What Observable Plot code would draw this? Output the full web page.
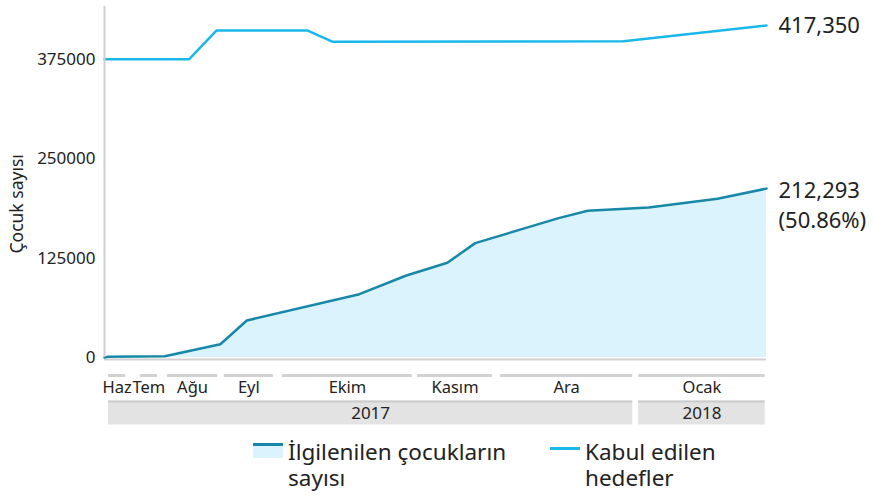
<!DOCTYPE html>
<html>
<head>
<meta charset="utf-8">
<script src="https://cdn.jsdelivr.net/npm/d3@7"></script>
<script src="https://cdn.jsdelivr.net/npm/@observablehq/plot@0.6"></script>
<style>
  body { margin: 0; background: #fff; font-family: "Noto Sans", sans-serif; }
  #chart { position: relative; width: 873px; height: 495px; }
  .legend { position: absolute; top: 439px; left: 0; width: 873px; font-size: 22.5px; line-height: 26px; color: #222; }
  .item { position: absolute; display: flex; align-items: flex-start; }
  .sw { width: 30px; height: 15px; margin-top: 4px; margin-right: 5px; box-sizing: border-box; flex: none; }
</style>
</head>
<body>
<div id="chart"></div>
<script>
// Abstract report-order position (0 = first report, 100 = last report)
const reachT  = [0, 0.5, 9.1, 17.5, 21.5, 38.5, 45.6, 51.8, 56.0, 68.6, 73.0, 82.2, 92.6, 100];
const reachV  = [0, 900, 1600, 16700, 46500, 79600, 103100, 119100, 143800, 175200, 184500, 188700, 199600, 212293];
const targetT = [0, 12.8, 16.9, 30.7, 34.4, 78.4, 100];
const targetV = [375000, 375000, 411000, 411000, 397000, 397500, 417350];
const months     = ["Haz", "Tem", "Ağu", "Eyl", "Ekim", "Kasım", "Ara", "Ocak"];
const monthStart = [0.6, 5.4, 9.5, 18.1, 26.9, 47.3, 59.8, 80.7];
const monthEnd   = [3.2, 8.0, 17.1, 25.5, 46.5, 58.6, 79.8, 99.8];
const monthYear  = [2017, 2017, 2017, 2017, 2017, 2017, 2017, 2018];
const yTicks = [0, 125000, 250000, 375000];
const yLabel = "Çocuk sayısı";
const reachName = "İlgilenilen çocukların sayısı";
const targetName = "Kabul edilen hedefler";

const reach = reachT.map((t, i) => ({t, v: reachV[i]}));
const target = targetT.map((t, i) => ({t, v: targetV[i]}));
const monthData = months.map((m, i) => ({m, s: monthStart[i], e: monthEnd[i], y: monthYear[i]}));
const years = d3.groups(monthData, d => d.y).map(([y, ms]) => ({
  y, s: d3.min(ms, d => d.s), e: d3.max(ms, d => d.e)
}));
const lastR = reach[reach.length - 1];
const lastT = target[target.length - 1];
const pct = Math.floor(lastR.v / lastT.v * 10000) / 100;

const TEAL = "#1888a8", CYAN = "#1ab8ea", FILL = "#daf3fc";

const plot = Plot.plot({
  width: 873,
  height: 430,
  marginLeft: 104,
  marginRight: 107,
  marginTop: 3,
  marginBottom: 73,
  style: {fontFamily: "Noto Sans, sans-serif", color: "#222", background: "transparent"},
  x: {domain: [0, 100], axis: null},
  y: {domain: [0, 445000], axis: null},
  marks: [
    Plot.axisY({ticks: yTicks, tickSize: 0, tickPadding: 9, tickFormat: d3.format("d"), label: null, fontSize: 17}),
    Plot.ruleY([0], {stroke: "#d0d0d0", strokeWidth: 2, dy: 2}),
    Plot.areaY(reach, {x: "t", y: "v", fill: FILL}),
    Plot.lineY(reach, {x: "t", y: "v", stroke: TEAL, strokeWidth: 2.5}),
    Plot.lineY(target, {x: "t", y: "v", stroke: CYAN, strokeWidth: 2.5}),
    Plot.ruleX([0], {y1: 0, y2: 445000, stroke: "#cfcfcf", strokeWidth: 2, insetBottom: -3}),
    Plot.text([lastT], {x: "t", y: "v", text: d => d3.format(",")(d.v), textAnchor: "start", dx: 12, fontSize: 22, fill: "#222"}),
    Plot.text([lastR], {x: "t", y: "v", text: d => d3.format(",")(d.v) + "\n(" + pct.toFixed(2) + "%)", textAnchor: "start", dx: 12, dy: 15, lineHeight: 1.36, fontSize: 22, fill: "#222"}),
    // month bars and labels
    Plot.ruleY(monthData, {x1: "s", x2: "e", y: 0, dy: 18, stroke: "#d2d2d2", strokeWidth: 3}),
    Plot.text(monthData, {x: d => (d.s + d.e) / 2, y: 0, text: "m", dy: 30, fontSize: 16.5, fill: "#222"}),
    // year bands
    Plot.ruleY(years, {x1: "s", x2: "e", y: 0, dy: 55, stroke: "#e3e3e3", strokeWidth: 24}),
    Plot.ruleY(years, {x1: "s", x2: "e", y: 0, dy: 44, stroke: "#cbcbcb", strokeWidth: 2}),
    Plot.text(years, {x: d => (d.s + d.e) / 2, y: 0, text: d => String(d.y), dy: 56, fontSize: 17, fill: "#222"}),
    // y label
    Plot.text([yLabel], {frameAnchor: "left", rotate: -90, dx: -87, dy: 73, fontSize: 17.5, fill: "#222"})
  ]
});
const chart = document.getElementById("chart");
chart.appendChild(plot);

const legend = document.createElement("div");
legend.className = "legend";
legend.innerHTML = `
  <div class="item" style="left:253px;">
    <div class="sw" style="background:${FILL}; border-top:3px solid ${TEAL};"></div>
    <div style="width:250px;">${reachName}</div>
  </div>
  <div class="item" style="left:550px;">
    <div class="sw" style="height:3px; margin-top:8px; background:${CYAN};"></div>
    <div style="width:160px;">${targetName}</div>
  </div>`;
chart.appendChild(legend);
</script>
</body>
</html>
